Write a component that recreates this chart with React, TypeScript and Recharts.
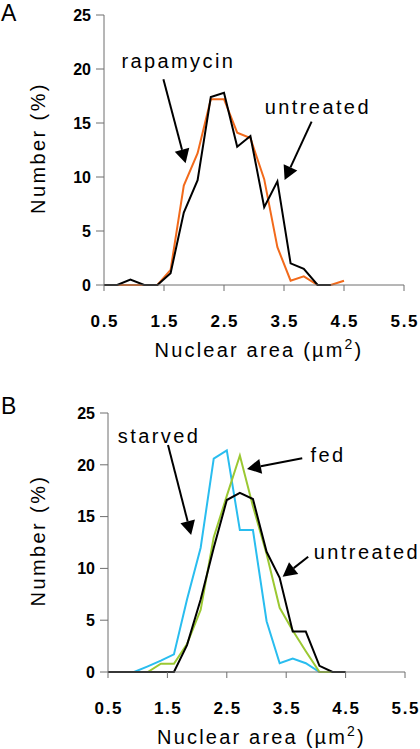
import React from 'react';
import { LineChart, Line, XAxis, YAxis, ReferenceLine, ReferenceDot } from 'recharts';

// bin positions (µm²)
const binCenters = [0.5, 0.72, 0.94, 1.17, 1.39, 1.61, 1.83, 2.06, 2.28, 2.5, 2.72, 2.94, 3.17, 3.39, 3.61, 3.83, 4.06, 4.28, 4.5];

// Panel A
const untreatedA = [0, 0, 0.5, 0, 0, 1.1, 6.7, 9.7, 17.4, 17.8, 12.8, 13.8, 7.2, 9.6, 2.0, 1.5, 0, 0, null];
const rapamycinA = [null, 0, 0, 0, 0, 1.4, 9.2, 12.2, 17.2, 17.2, 14.1, 13.6, 9.8, 3.5, 0.4, 0.8, 0, 0, 0.4];

// Panel B
const untreatedB = [0, 0, 0, 0, 0, 0, 2.6, 7.0, 12.0, 16.6, 17.3, 16.7, 11.6, 9.1, 3.9, 3.9, 0.6, 0, 0];
const fedB = [0, 0, 0, 0, 0.8, 0.8, 2.7, 6.0, 13.0, 17.0, 20.9, 16.0, 11.4, 6.2, 4.0, 2.0, 0, 0, null];
const starvedB = [0, 0, 0, 0.55, 1.1, 1.7, 7.0, 12.0, 20.6, 21.4, 13.7, 13.7, 4.9, 0.85, 1.3, 0.85, 0, 0, null];

const xTicks = [0.5, 1.5, 2.5, 3.5, 4.5, 5.5];
const yTicks = [0, 5, 10, 15, 20, 25];

type Ann = { text: string; tx: number; ty: number; x1: number; y1: number; x2: number; y2: number };

const annotationsA: Ann[] = [
  { text: 'rapamycin', tx: 0.79, ty: 20.7, x1: 1.49, y1: 19.05, x2: 1.86, y2: 11.27 },
  { text: 'untreated', tx: 3.18, ty: 16.45, x1: 3.96, y1: 15.12, x2: 3.51, y2: 9.72 },
];
const annotationsB: Ann[] = [
  { text: 'starved', tx: 0.665, ty: 22.8, x1: 1.51, y1: 21.92, x2: 1.9, y2: 13.22 },
  { text: 'fed', tx: 3.91, ty: 20.96, x1: 3.77, y1: 20.64, x2: 2.84, y2: 19.6 },
  { text: 'untreated', tx: 3.965, ty: 11.6, x1: 3.87, y1: 11.12, x2: 3.44, y2: 9.19 },
];

const dataA = binCenters.map((x, i) => ({ x, untreated: untreatedA[i], rapamycin: rapamycinA[i] }));
const dataB = binCenters.map((x, i) => ({ x, untreated: untreatedB[i], fed: fedB[i], starved: starvedB[i] }));

const FONT = '"Liberation Sans", Arial, sans-serif';
const AXIS = '#6e6e6e';

const XTick = (p: any) => (
  <text x={p.x + 0.8} y={p.y + 35.5} textAnchor="middle" fontFamily={FONT} fontSize={17} fontWeight="bold" letterSpacing={1.6} fill="#000">
    {p.payload.value.toFixed(1)}
  </text>
);
const YTick = (p: any) => (
  <text x={p.x} y={p.y + 5.8} textAnchor="end" fontFamily={FONT} fontSize={16} fontWeight="bold" fill="#000">
    {p.payload.value}
  </text>
);

const XTitle = (p: any) => {
  const vb = p.viewBox;
  return (
    <text x={vb.x + vb.width / 2 + 5} y={vb.y + 72} textAnchor="middle" fontFamily={FONT} fontSize={20} letterSpacing={2.2} fill="#000">
      Nuclear area (µm
      <tspan fontSize={14} dy={-8}>2</tspan>
      <tspan dy={8}>)</tspan>
    </text>
  );
};
const YTitle = (p: any) => {
  const vb = p.viewBox;
  const cx = vb.x + 38;
  const cy = vb.y + vb.height / 2 - 2;
  return (
    <text x={cx} y={cy} transform={`rotate(-90 ${cx} ${cy})`} textAnchor="middle" dominantBaseline="central" fontFamily={FONT} fontSize={20} letterSpacing={2.4} fill="#000">
      Number (%)
    </text>
  );
};

const Arrow = (p: any) => {
  const { x1, y1, x2, y2 } = p;
  const dx = x2 - x1;
  const dy = y2 - y1;
  const len = Math.sqrt(dx * dx + dy * dy) || 1;
  const ux = dx / len;
  const uy = dy / len;
  const L = 14;
  const W = 7.5;
  const bx = x2 - ux * L;
  const by = y2 - uy * L;
  const nx = -uy;
  const ny = ux;
  return (
    <g>
      <line x1={x1} y1={y1} x2={bx} y2={by} stroke="#000" strokeWidth={2} />
      <polygon points={`${x2},${y2} ${bx + nx * W},${by + ny * W} ${bx - nx * W},${by - ny * W}`} fill="#000" />
    </g>
  );
};

const renderAnnotations = (anns: Ann[]) =>
  anns.flatMap((a, i) => [
    <ReferenceLine
      key={`al${i}`}
      segment={[{ x: a.x1, y: a.y1 }, { x: a.x2, y: a.y2 }]}
      ifOverflow="visible"
      shape={(p: any) => <Arrow {...p} />}
    />,
    <ReferenceDot
      key={`at${i}`}
      x={a.tx}
      y={a.ty}
      r={0}
      ifOverflow="visible"
      shape={(p: any) => (
        <text x={p.cx} y={p.cy} dominantBaseline="central" fontFamily={FONT} fontSize={20} letterSpacing={2.4} fill="#000">
          {a.text}
        </text>
      )}
    />,
  ]);

const axisCommon = {
  stroke: AXIS,
  tickLine: { stroke: AXIS },
};

const PanelLetter = ({ letter, top }: { letter: string; top: number }) => (
  <div style={{ position: 'absolute', left: 1, top, fontFamily: FONT, fontSize: 23, lineHeight: '27px', color: '#000' }}>{letter}</div>
);

export default function App() {
  return (
    <div style={{ position: 'absolute', left: 0, top: 0, width: 420, height: 749, background: '#fff', overflow: 'hidden' }}>
      <div style={{ position: 'absolute', left: 0, top: 0 }}>
        <LineChart width={420} height={370} data={dataA} margin={{ top: 15, right: 16, bottom: 0, left: 0 }}>
          <XAxis
            dataKey="x"
            type="number"
            domain={[0.5, 5.5]}
            ticks={xTicks}
            interval={0}
            height={85}
            tickSize={6}
            tickMargin={0}
            tick={<XTick />}
            label={{ content: <XTitle /> }}
            {...axisCommon}
          />
          <YAxis
            type="number"
            domain={[0, 25]}
            ticks={yTicks}
            interval={0}
            width={104}
            tickSize={8}
            tickMargin={5}
            tick={<YTick />}
            label={{ content: <YTitle /> }}
            {...axisCommon}
          />
          <Line dataKey="rapamycin" stroke="#F26A1B" strokeWidth={2} dot={false} isAnimationActive={false} />
          <Line dataKey="untreated" stroke="#000" strokeWidth={2} dot={false} isAnimationActive={false} />
          {renderAnnotations(annotationsA)}
        </LineChart>
      </div>
      <div style={{ position: 'absolute', left: 0, top: 380 }}>
        <LineChart width={420} height={369} data={dataB} margin={{ top: 33, right: 15, bottom: 0, left: 0 }}>
          <XAxis
            dataKey="x"
            type="number"
            domain={[0.5, 5.5]}
            ticks={xTicks}
            interval={0}
            height={77}
            tickSize={6}
            tickMargin={0}
            tick={<XTick />}
            label={{ content: <XTitle /> }}
            {...axisCommon}
          />
          <YAxis
            type="number"
            domain={[0, 25]}
            ticks={yTicks}
            interval={0}
            width={108}
            tickSize={8}
            tickMargin={5}
            tick={<YTick />}
            label={{ content: <YTitle /> }}
            {...axisCommon}
          />
          <Line dataKey="starved" stroke="#29BDEF" strokeWidth={2} dot={false} isAnimationActive={false} />
          <Line dataKey="fed" stroke="#9BC832" strokeWidth={2} dot={false} isAnimationActive={false} />
          <Line dataKey="untreated" stroke="#000" strokeWidth={2} dot={false} isAnimationActive={false} />
          {renderAnnotations(annotationsB)}
        </LineChart>
      </div>
      <PanelLetter letter="A" top={0} />
      <PanelLetter letter="B" top={393} />
    </div>
  );
}
